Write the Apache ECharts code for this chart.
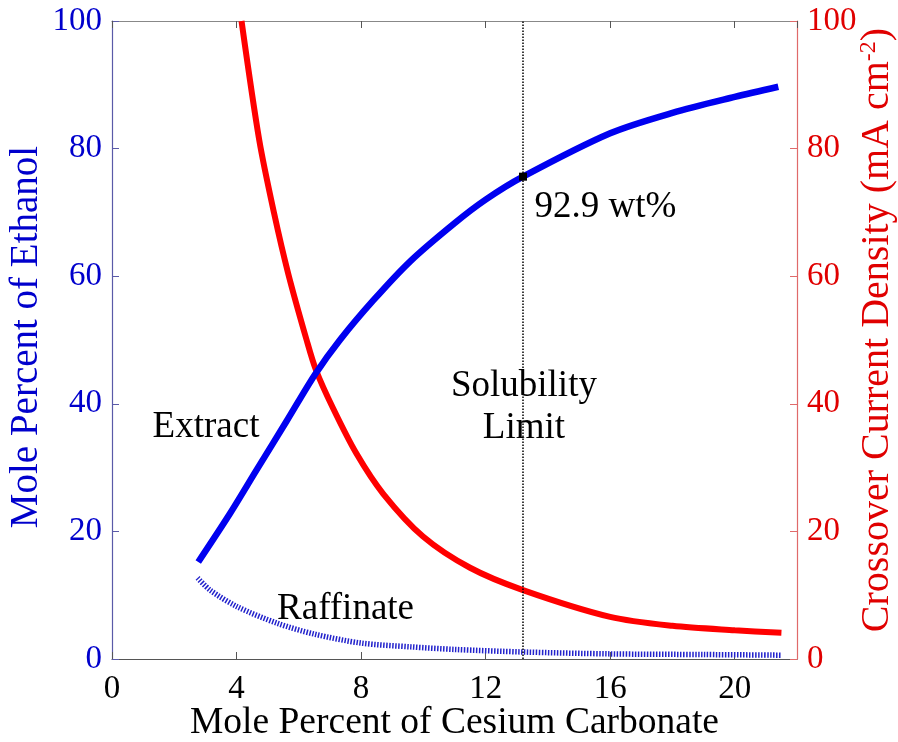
<!DOCTYPE html>
<html>
<head>
<meta charset="utf-8">
<script src="https://cdn.jsdelivr.net/npm/echarts@6/dist/echarts.min.js"></script>
<style>
  html, body { margin: 0; padding: 0; background: #fff; }
  #chart { width: 898px; height: 742px; }
</style>
</head>
<body>
<div id="chart"></div>
<script>
// values
const extractX = [2.77, 3.79, 4.64, 5.61, 6.52, 7.32, 8.39, 9.57, 11, 12, 13.2, 16, 18, 20, 21.4];
const extractY = [15.2, 22.8, 29.6, 37.3, 44.6, 50.0, 56.2, 62.3, 68.3, 72, 75.6, 82.4, 85.6, 88.1, 89.7];

const raffX = [2.75, 3.15, 4.02, 5.31, 6.5, 8.0, 9.6, 11, 13.2, 16, 19, 21.5];
const raffY = [12.7, 10.8, 8.2, 5.6, 3.9, 2.5, 1.9, 1.5, 1.1, 0.8, 0.7, 0.6];

const crossX = [4.16, 4.73, 5.2, 5.66, 6.25, 6.55, 7.1, 7.85, 8.71, 9.99, 11.5, 13.2, 16, 18, 20, 21.5];
const crossY = [100, 81.3, 70, 60.4, 50.0, 45.3, 39.3, 32.2, 25.9, 19.2, 14.3, 10.8, 6.6, 5.2, 4.5, 4.1];

const limitX = 13.2;
const limitPoint = [13.2, 75.6];

const noteText = ['Extract', 'Raffinate', 'Solubility\nLimit', '92.9 wt%'];
const noteX = [3.02, 7.5, 13.23, 15.85];
const noteY = [36.3, 7.8, 39.5, 70.8];

const xTicks = { min: 0, max: 22, interval: 4 };
const yTicks = { min: 0, max: 100, interval: 20 };

const font = "'Liberation Serif', 'Times New Roman', serif";
const pairs = (xs, ys) => xs.map((x, i) => [x, ys[i]]);

const myChart = echarts.init(document.getElementById('chart'));

const option = {
  animation: false,
  grid: { left: 112, right: 101, top: 21, bottom: 83, containLabel: false, outerBoundsMode: 'none' },
  xAxis: [
    {
      type: 'value',
      min: xTicks.min, max: xTicks.max, interval: xTicks.interval,
      name: 'Mole Percent of Cesium Carbonate',
      nameLocation: 'middle',
      nameGap: 45,
      nameMoveOverlap: false,
      nameTextStyle: { fontFamily: font, fontSize: 37.5, color: '#000' },
      axisLine: { onZero: false, lineStyle: { color: '#555', width: 1.2 } },
      axisTick: { inside: true, length: 7, lineStyle: { color: '#555' } },
      axisLabel: { fontFamily: font, fontSize: 33, color: '#000', margin: 14, showMaxLabel: false },
      splitLine: { show: false }
    },
    {
      type: 'value',
      position: 'top',
      min: xTicks.min, max: xTicks.max, interval: xTicks.interval,
      axisLine: { onZero: false, lineStyle: { color: '#888', width: 1.2 } },
      axisTick: { inside: true, length: 7, lineStyle: { color: '#555' } },
      axisLabel: { show: false },
      splitLine: { show: false }
    }
  ],
  yAxis: [
    {
      type: 'value',
      min: yTicks.min, max: yTicks.max, interval: yTicks.interval,
      name: 'Mole Percent of Ethanol',
      nameLocation: 'middle',
      nameGap: 66,
      nameMoveOverlap: false,
      nameTextStyle: { fontFamily: font, fontSize: 39, color: '#0000cc', padding: [0, 0, 0, 6] },
      axisLine: { show: true, onZero: false, lineStyle: { color: '#5a5aa8', width: 1.2 } },
      axisTick: { inside: true, length: 7, lineStyle: { color: '#5a5aa8' } },
      axisLabel: { fontFamily: font, fontSize: 33, color: '#0000cc', margin: 10 },
      splitLine: { show: false }
    },
    {
      type: 'value',
      position: 'right',
      min: yTicks.min, max: yTicks.max, interval: yTicks.interval,
      name: 'Crossover Current Density (mA cm{sup|-2})',
      nameLocation: 'middle',
      nameGap: 60,
      nameMoveOverlap: false,
      nameTextStyle: {
        fontFamily: font, fontSize: 40, color: '#e00000', padding: [0, 0, 0, 20],
        rich: { sup: { fontFamily: font, fontSize: 24, color: '#e00000', verticalAlign: 'top' } }
      },
      axisLine: { show: true, onZero: false, lineStyle: { color: '#e06a6a', width: 1.2 } },
      axisTick: { inside: true, length: 7, lineStyle: { color: '#e06a6a' } },
      axisLabel: { fontFamily: font, fontSize: 33, color: '#e00000', margin: 10 },
      splitLine: { show: false }
    }
  ],
  series: [
    {
      name: 'Extract',
      type: 'line',
      data: pairs(extractX, extractY),
      smooth: 0.3,
      showSymbol: false,
      lineStyle: { color: '#0000f0', width: 6.5 },
      z: 3,
      markLine: {
        silent: true,
        symbol: 'none',
        label: { show: false },
        lineStyle: { color: '#000', type: [1.5, 1.5], width: 1.5 },
        data: [{ xAxis: limitX }]
      }
    },
    {
      name: 'Raffinate',
      type: 'line',
      data: pairs(raffX, raffY),
      smooth: 0.3,
      showSymbol: false,
      lineStyle: { color: '#2222cc', width: 5.5, type: [1.5, 1.5] },
      z: 3
    },
    {
      name: 'Crossover',
      type: 'line',
      yAxisIndex: 1,
      data: pairs(crossX, crossY),
      smooth: 0.3,
      showSymbol: false,
      lineStyle: { color: '#ff0000', width: 6 },
      z: 2
    },
    {
      name: 'limit',
      type: 'scatter',
      data: [limitPoint],
      symbol: 'rect',
      symbolSize: 8,
      itemStyle: { color: '#000', opacity: 1 },
      z: 5
    },
    {
      name: 'notes',
      type: 'scatter',
      data: noteText.map((t, i) => ({ name: t, value: [noteX[i], noteY[i]] })),
      symbolSize: 0,
      silent: true,
      itemStyle: { opacity: 1 },
      label: {
        show: true,
        position: 'inside',
        formatter: p => p.name,
        fontFamily: font,
        fontSize: 37,
        lineHeight: 42,
        color: '#000',
        opacity: 1
      },
      z: 6
    }
  ]
};

myChart.setOption(option);
</script>
</body>
</html>
